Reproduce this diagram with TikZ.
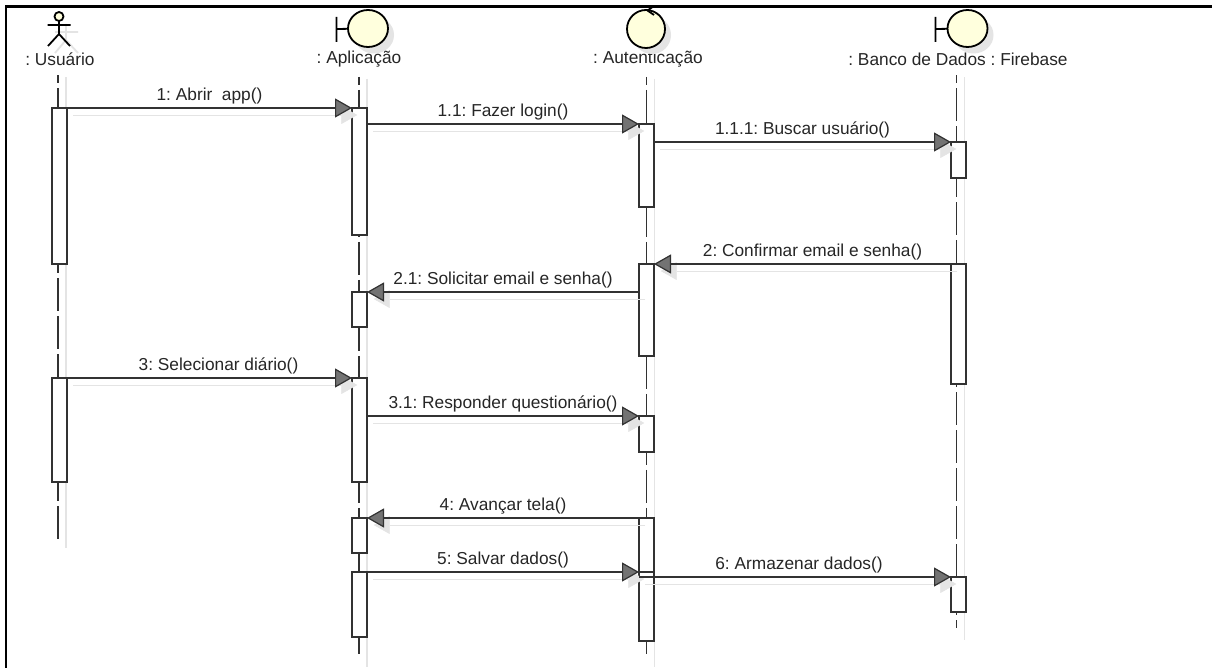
\documentclass[tikz,border=0pt]{standalone}
\usepackage{fontspec}
\setmainfont{Liberation Sans}
\usepackage{xcolor}
\usetikzlibrary{arrows.meta,shapes.geometric}
\definecolor{iconfill}{RGB}{255,255,221}
\definecolor{linegray}{RGB}{50,50,50}
\definecolor{shadowgray}{RGB}{228,228,228}
\frenchspacing

\begin{document}
\begin{tikzpicture}[
    x=1pt, y=-1pt,
    frame/.style={draw=black, line width=2.4pt},
    lbl/.style={font=\fontsize{17.3}{20}\selectfont, text=black!85, inner sep=0pt},
    act/.style={draw=linegray, fill=white, line width=1.2pt, minimum width=15pt, inner sep=0pt, outer sep=0pt, anchor=north},
    life/.style={draw=linegray, line width=1.5pt, dash pattern=on 33pt off 5pt, dash phase=25pt},
    lifeshade/.style={draw=shadowgray, line width=1.2pt},
    msg/.style={draw=linegray, line width=1.2pt, -{Triangle[length=17pt, width=19pt, fill=black!55]},
      preaction={draw=shadowgray, -{Triangle[length=17pt, width=19pt]}, transform canvas={shift={(6,7)}}}},
    mlbl/.style={midway, above=3.5pt, font=\fontsize{17.3}{20}\selectfont, text=black!85, inner sep=0pt},
    icon/.style={ellipse, draw=black, fill=iconfill, line width=1.8pt, inner sep=0pt, outer sep=0pt},
    iconshade/.style={ellipse, fill=shadowgray, inner sep=0pt},
    stroke/.style={draw=black, line width=1.8pt}
]
\useasboundingbox (0,0) rectangle (1212,668);
\fill[white] (0,0) rectangle (1212,668);
\draw[frame] (6,668) -- (6,6.5) -- (1212,6.5);

\node[lbl] (user) at (60,59.5) {: Usuário};
\node[lbl] (app) at (359,59.5) {: Aplicação};
\node[lbl] (auth) at (648,59.5) {: Autenticação};
\node[lbl] (fire) at (958,59.5) {: Banco de Dados : Firebase};

\coordinate (userend) at (58,543);
\coordinate (append) at (359,654);
\coordinate (authend) at (646.5,654);
\coordinate (fireend) at (956.5,628);
\draw[lifeshade] ([xshift=8pt]userend |- user.south) ++(0,11) -- ([shift={(8,5)}]userend);
\draw[lifeshade] ([xshift=8pt]append |- app.south) ++(0,11) -- ([shift={(8,13)}]append);
\draw[lifeshade] ([xshift=8pt]authend |- auth.south) ++(0,11) -- ([shift={(8,13)}]authend);
\draw[lifeshade] ([xshift=8pt]fireend |- fire.south) ++(0,11) -- ([shift={(8,12)}]fireend);
\draw[life] ([yshift=-9pt]userend |- user.south) -- (userend);
\draw[life] ([yshift=-9pt]append |- app.south) -- (append);
\draw[life] ([yshift=-9pt]authend |- auth.south) -- (authend);
\draw[life] ([yshift=-9pt]fireend |- fire.south) -- (fireend);

\node[iconshade, minimum width=40pt, minimum height=37pt] at (374,35) {};
\node[iconshade, minimum width=38pt, minimum height=38pt] at (652,35) {};
\node[iconshade, minimum width=40pt, minimum height=37pt] at (973.5,35) {};
\draw[shadowgray, line width=1.8pt] (66,24) -- (66,40) (55,32) -- (78,32) (66,40) -- (55,53) (66,40) -- (78,53);

\node[icon, minimum width=9pt, minimum height=9pt] (userhead) at (59,16.5) {};
\coordinate (userhip) at (59,34);
\coordinate (userarml) at (47.5,25);
\coordinate (userarmr) at (70.5,25);
\coordinate (userlegl) at (48,46);
\coordinate (userlegr) at (70,46);
\draw[stroke] (userhead) -- (userhip) -- (userlegl) (userhip) -- (userlegr) (userarml) -- (userarmr);

\node[icon, minimum width=40pt, minimum height=37pt] (apphead) at (368,28.5) {};
\coordinate (appbart) at (336.5,17);
\coordinate (appbarb) at (336.5,42);
\draw[stroke] (appbart) -- (appbarb) (336.5,29) -- (apphead);

\node[icon, minimum width=38pt, minimum height=38pt] (authhead) at (646,29) {};
\draw[stroke] (654,6) -- (647.5,10.5) -- (654,15);

\node[icon, minimum width=40pt, minimum height=37pt] (firehead) at (967.5,28.5) {};
\coordinate (firebart) at (935.5,17);
\coordinate (firebarb) at (935.5,42);
\draw[stroke] (firebart) -- (firebarb) (935.5,29) -- (firehead);

\node[act, minimum height=156pt] (user1) at (59.5,108) {};
\node[act, minimum height=104pt] (user2) at (59.5,378) {};
\node[act, minimum height=127pt] (app1) at (359.5,108) {};
\node[act, minimum height=35pt] (app2) at (359.5,292) {};
\node[act, minimum height=104pt] (app3) at (359.5,378) {};
\node[act, minimum height=35pt] (app4) at (359.5,518) {};
\node[act, minimum height=65pt] (app5) at (359.5,572) {};
\node[act, minimum height=83pt] (auth1) at (646.5,124) {};
\node[act, minimum height=92pt] (auth2) at (646.5,264) {};
\node[act, minimum height=36pt] (auth3) at (646.5,416) {};
\node[act, minimum height=54pt] (auth4) at (646.5,518) {};
\node[act, minimum height=69pt] (auth5) at (646.5,572) {};
\node[act, minimum height=36pt] (fire1) at (958.5,142) {};
\node[act, minimum height=120pt] (fire2) at (958.5,264) {};
\node[act, minimum height=35pt] (fire3) at (958.5,577) {};

\draw[msg] (user1.north east) -- node[mlbl] {1: Abrir\ \ app()} (app1.north west);
\draw[msg] (app1.east |- auth1.north) -- node[mlbl] {1.1: Fazer login()} (auth1.north west);
\draw[msg] (auth1.east |- fire1.north) -- node[mlbl] {1.1.1: Buscar usuário()} (fire1.north west);
\draw[msg] (fire2.north west) -- node[mlbl, xshift=10pt] {2: Confirmar email e senha()} (auth2.north east);
\draw[msg] (auth2.west |- app2.north) -- node[mlbl] {2.1: Solicitar email e senha()} (app2.north east);
\draw[msg] (user2.north east) -- node[mlbl, xshift=9pt] {3: Selecionar diário()} (app3.north west);
\draw[msg] (app3.east |- auth3.north) -- node[mlbl] {3.1: Responder questionário()} (auth3.north west);
\draw[msg] (auth4.north west) -- node[mlbl] {4: Avançar tela()} (app4.north east);
\draw[msg] (app5.north east) -- node[mlbl] {5: Salvar dados()} (auth5.north west);
\draw[msg] (auth5.west |- fire3.north) -- node[mlbl, xshift=4pt] {6: Armazenar dados()} (fire3.north west);
\end{tikzpicture}
\end{document}
